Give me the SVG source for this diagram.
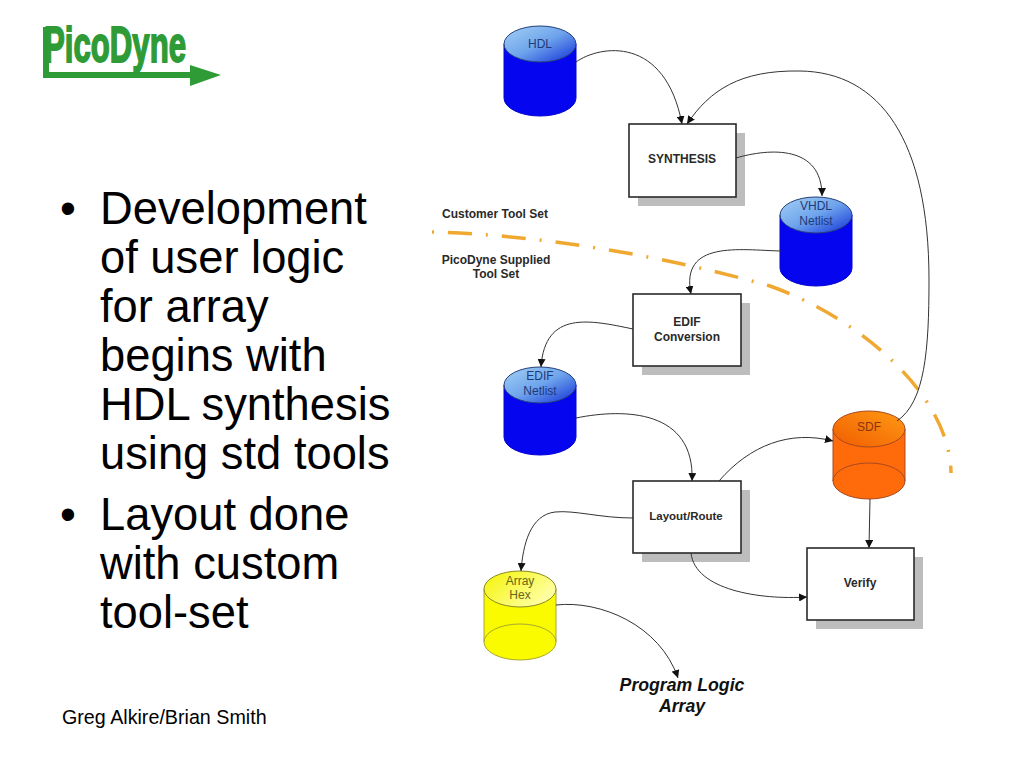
<svg xmlns="http://www.w3.org/2000/svg" width="1024" height="768" viewBox="0 0 1024 768">
<style>
text{font-family:"Liberation Sans",Arial,sans-serif}
.body{font-size:45.3px;fill:#000}
.foot{font-size:19.7px;fill:#000}
.lbl{font-size:12px;font-weight:bold;fill:#2a2a2a;text-anchor:middle}
.cyl{font-size:12px;text-anchor:middle}
.prog{font-size:17.7px;font-weight:bold;font-style:italic;fill:#111;text-anchor:middle}
.box{fill:#fff;stroke:#2a2a2a;stroke-width:1.6}
.shadow{fill:#bdbdbd}
.conn{fill:none;stroke:#333;stroke-width:1;marker-end:url(#arrow)}
.blue{fill:#0505f0;stroke:#0505d0;stroke-width:1}
.orange{fill:#ff6a0a;stroke:#a84a20;stroke-width:1}
.yellow{fill:#fbfb00;stroke:#a8a830;stroke-width:1}
</style>
<defs>
<marker id="arrow" markerUnits="userSpaceOnUse" markerWidth="9" markerHeight="8" refX="8" refY="4" orient="auto"><path d="M0,0L8,4L0,8Z" fill="#111"/></marker>
<linearGradient id="gb" x1="0" y1="0" x2="1" y2="1"><stop offset="0" stop-color="#a4d0f4"/><stop offset=".5" stop-color="#6ea4ec"/><stop offset="1" stop-color="#1030d8"/></linearGradient>
<linearGradient id="go" x1="0" y1="1" x2="1" y2="0"><stop offset="0" stop-color="#f05c00"/><stop offset="1" stop-color="#ff9a14"/></linearGradient>
<linearGradient id="gy" x1="0" y1="0" x2="1" y2="0.6"><stop offset="0" stop-color="#f4f400"/><stop offset="1" stop-color="#ffffa8"/></linearGradient>
</defs>

<g id="logo">
<text x="44" y="61.500" font-size="50" font-weight="bold" fill="#2e9b37" stroke="#2e9b37" stroke-width="1.800" textLength="142" lengthAdjust="spacingAndGlyphs">PicoDyne</text>
<path d="M43,27H49V72H190V65L221,75L190,86V78H43Z" fill="#2e9b37"/>
</g>

<g id="bullets">
<text class="body" x="60" y="224">•</text>
<text class="body" x="100" y="224">Development</text>
<text class="body" x="100" y="273">of user logic</text>
<text class="body" x="100" y="322">for array</text>
<text class="body" x="100" y="371">begins with</text>
<text class="body" x="100" y="420">HDL synthesis</text>
<text class="body" x="100" y="469">using std tools</text>
<text class="body" x="60" y="530">•</text>
<text class="body" x="100" y="530">Layout done</text>
<text class="body" x="100" y="579">with custom</text>
<text class="body" x="100" y="628">tool-set</text>
</g>
<text id="footer" class="foot" x="62" y="724">Greg Alkire/Brian Smith</text>

<path id="boundary" d="M432,232C540,235 660,255 770,286C860,318 950,395 951,473" fill="none" stroke="#f0a830" stroke-width="3.5" stroke-dasharray="2 14 24 14"/>
<text id="customer" class="lbl" x="495" y="218">Customer Tool Set</text>
<g id="supplied">
<text class="lbl" x="496" y="264">PicoDyne Supplied</text>
<text class="lbl" x="496" y="278">Tool Set</text>
</g>

<g id="hdl">
<path class="blue" d="M504,44V98A36,18 0 0 0 576,98V44Z"/>
<ellipse cx="540" cy="44" rx="36" ry="18" fill="url(#gb)" stroke="#26407a"/>
<text class="cyl" x="540" y="48" fill="#1f3a78">HDL</text>
</g>
<g id="synthesis">
<rect class="shadow" x="638" y="133" width="107" height="73"/>
<rect class="box" x="629" y="124" width="107" height="73"/>
<text class="lbl" x="682" y="163">SYNTHESIS</text>
</g>
<g id="vhdl">
<path class="blue" d="M780,215V268A36,18 0 0 0 852,268V215Z"/>
<ellipse cx="816" cy="215" rx="36" ry="18" fill="url(#gb)" stroke="#26407a"/>
<text class="cyl" x="816" y="210" fill="#1f3a78">VHDL</text>
<text class="cyl" x="816" y="225" fill="#1f3a78">Netlist</text>
</g>
<g id="edif">
<rect class="shadow" x="642" y="303" width="108" height="72"/>
<rect class="box" x="633" y="294" width="108" height="72"/>
<text class="lbl" x="687" y="326">EDIF</text>
<text class="lbl" x="687" y="341">Conversion</text>
</g>
<g id="edifnet">
<path class="blue" d="M504,385V437A36,18 0 0 0 576,437V385Z"/>
<ellipse cx="540" cy="385" rx="36" ry="18" fill="url(#gb)" stroke="#26407a"/>
<text class="cyl" x="540" y="380" fill="#1f3a78">EDIF</text>
<text class="cyl" x="540" y="395" fill="#1f3a78">Netlist</text>
</g>
<g id="layout">
<rect class="shadow" x="642" y="490" width="108" height="72"/>
<rect class="box" x="633" y="481" width="108" height="72"/>
<text class="lbl" x="686" y="520" style="font-size:11.5px">Layout/Route</text>
</g>
<g id="sdf">
<path class="orange" d="M833,429V481A36,18 0 0 0 905,481V429Z"/>
<path d="M833,481A36,18 0 0 1 905,481" fill="none" stroke="#a84a20"/>
<ellipse cx="869" cy="429" rx="36" ry="18" fill="url(#go)" stroke="#a84a20"/>
<text class="cyl" x="869" y="431" fill="#8a3510">SDF</text>
</g>
<g id="verify">
<rect class="shadow" x="816" y="557" width="107" height="72"/>
<rect class="box" x="807" y="548" width="107" height="72"/>
<text class="lbl" x="860" y="587">Verify</text>
</g>
<g id="arrayhex">
<path class="yellow" d="M484,589V642A36,18 0 0 0 556,642V589Z"/>
<path d="M484,642A36,18 0 0 1 556,642" fill="none" stroke="#a8a830"/>
<ellipse cx="520" cy="589" rx="36" ry="18" fill="url(#gy)" stroke="#8a8a20"/>
<text class="cyl" x="520" y="585" fill="#66661a">Array</text>
<text class="cyl" x="520" y="599" fill="#66661a">Hex</text>
</g>
<g id="program">
<text class="prog" x="682" y="691">Program Logic</text>
<text class="prog" x="682" y="712">Array</text>
</g>

<g id="connectors">
<path class="conn" d="M576,62C600,45 665,35 682,124"/>
<path class="conn" d="M897,421C925,402 929,350 929,280C929,140 880,72 800,71C740,70 710,90 687,124"/>
<path class="conn" d="M736,158C770,148 822,145 822,196"/>
<path class="conn" d="M781,251C740,250 680,240 691,294"/>
<path class="conn" d="M633,329C590,320 545,310 541,367"/>
<path class="conn" d="M576,418C625,408 695,410 692,481"/>
<path class="conn" d="M719,481C750,445 790,430 833,441"/>
<path class="conn" d="M870,499L869,548"/>
<path class="conn" d="M691,553C695,590 760,600 807,597"/>
<path class="conn" d="M633,518C600,518 575,510 555,512C530,515 523,545 521,571"/>
<path class="conn" d="M556,605C600,600 660,625 678,678"/>
</g>
</svg>
